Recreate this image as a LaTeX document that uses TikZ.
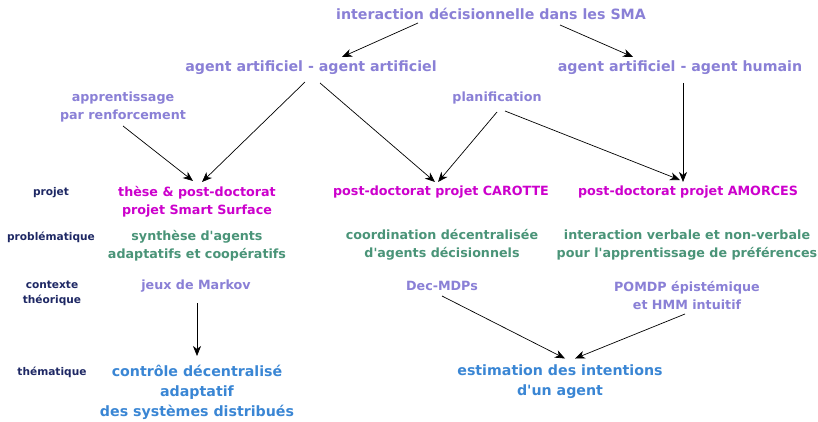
\documentclass[tikz,border=0pt]{standalone}
\usepackage{fontspec}
\setmainfont{DejaVu Sans}
\usetikzlibrary{arrows.meta,calc}
\definecolor{lav}{RGB}{138,128,214}
\definecolor{mag}{RGB}{204,0,204}
\definecolor{grn}{RGB}{74,148,120}
\definecolor{blu}{RGB}{58,134,212}
\definecolor{nav}{RGB}{30,40,100}
\newcommand{\apos}{\textquotesingle}
\begin{document}
\begin{tikzpicture}[x=1pt,y=-1pt,
  txt/.style={inner sep=0pt,align=center,font=\fontsize{12.7}{18.5}\selectfont\bfseries},
  big/.style={font=\fontsize{14.2}{20}\selectfont\bfseries},
  lavtxt/.style={txt,text=lav},
  magtxt/.style={txt,text=mag},
  grntxt/.style={txt,text=grn},
  blutxt/.style={txt,big,text=blu},
  rowlab/.style={inner sep=0pt,align=center,text=nav,font=\fontsize{10.6}{15}\selectfont\bfseries},
  arr/.style={-{Stealth[length=10pt,width=8pt,inset=3pt]},line width=0.7pt,black}]
\useasboundingbox (0,0) rectangle (818,422);
% row labels
\node[rowlab] (lproj) at (51,193) {projet};
\node[rowlab] (lprob) at (51,237) {problématique};
\node[rowlab] (lctx) at (52,293.5) {contexte\\théorique};
\node[rowlab] (lthem) at (52,372) {thématique};
% top levels
\node[lavtxt,big] (top) at (491,14) {interaction décisionnelle dans les SMA};
\node[lavtxt,big] (aa) at (311,68) {agent artificiel - agent artificiel};
\node[lavtxt,big] (ah) at (680,68) {agent artificiel - agent humain};
\node[lavtxt] (appr) at (123,107) {apprentissage\\par renforcement};
\node[lavtxt] (plan) at (497,98) {planification};
% projects
\node[magtxt] (these) at (197,202) {thèse \& post-doctorat\\projet Smart Surface};
\node[magtxt] (carotte) at (441,192) {post-doctorat projet CAROTTE};
\node[magtxt] (amorces) at (688,192) {post-doctorat projet AMORCES};
% problems
\node[grntxt] (synth) at (197,245.5) {synthèse d\apos agents\\adaptatifs et coopératifs};
\node[grntxt] (coord) at (442,245) {coordination décentralisée\\d\apos agents décisionnels};
\node[grntxt] (inter) at (687,245) {interaction verbale et non-verbale\\pour l\apos apprentissage de préférences};
% theory
\node[lavtxt] (markov) at (196,286) {jeux de Markov};
\node[lavtxt] (decmdp) at (442,286) {Dec-MDPs};
\node[lavtxt] (pomdp) at (687,295.5) {POMDP épistémique\\et HMM intuitif};
% themes
\node[blutxt] (ctrl) at (197,392) {contrôle décentralisé\\adaptatif\\des systèmes distribués};
\node[blutxt] (estim) at (560,381.5) {estimation des intentions\\d\apos un agent};
% arrows
\draw[arr] ($(top)+(-73,9)$) -- ($(aa)+(31,-11)$);
\draw[arr] ($(top)+(69,11)$) -- ($(ah)+(-47,-11)$);
\draw[arr] ($(aa)+(-6,14)$) -- ($(these)+(5,-20)$);
\draw[arr] ($(aa)+(9,15)$) -- ($(carotte)+(-6,-10)$);
\draw[arr] ($(appr)+(0,19)$) -- ($(these)+(-4,-21)$);
\draw[arr] ($(plan)+(0,14)$) -- ($(carotte)+(-3,-10)$);
\draw[arr] ($(plan)+(8,13)$) -- ($(amorces)+(-8,-12)$);
\draw[arr] ($(ah)+(3,15)$) -- ($(amorces)+(-5,-10)$);
\draw[arr] ($(markov)+(1,17)$) -- ($(ctrl)+(0,-36)$);
\draw[arr] ($(decmdp)+(0,10)$) -- ($(estim)+(5,-23)$);
\draw[arr] ($(pomdp)+(-2,18.5)$) -- ($(estim)+(15,-23)$);
\end{tikzpicture}
\end{document}
